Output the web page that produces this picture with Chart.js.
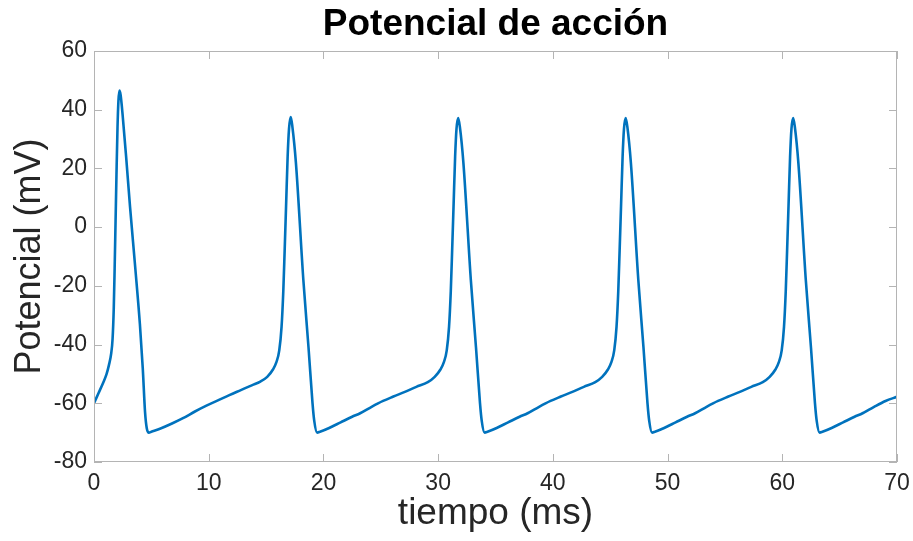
<!DOCTYPE html>
<html>
<head>
<meta charset="utf-8">
<script src="https://cdn.jsdelivr.net/npm/chart.js@4"></script>
<style>
  html, body { margin: 0; padding: 0; background: #fff; }
  #wrap { width: 913px; height: 541px; }
</style>
</head>
<body>
<div id="wrap"><canvas id="potChart"></canvas></div>
<script>
// datos (ms, mV)
const tiempo = [
  0, 0.4, 0.8, 1.1, 1.3, 1.5, 1.62, 1.72, 1.8, 1.88, 1.96, 2.05, 2.13, 2.22, 2.32, 2.5, 2.8, 3.14, 3.6, 4.0, 4.25, 4.45, 4.6, 4.78,
  5.0, 5.8, 6.8, 7.8, 8.8, 9.8, 10.8, 11.8, 12.8, 13.8,
  14.5, 15.1, 15.6, 15.9, 16.15, 16.35, 16.5, 16.62, 16.75, 16.88, 17.0, 17.15, 17.3, 17.6, 18.25, 18.7, 19.05, 19.2, 19.45,
  19.7, 20.5, 21.5, 22.5, 23.2, 24.2, 25.2, 26.1, 27.1, 28.1, 29.1,
  29.7, 30.2, 30.5, 30.75, 30.95, 31.1, 31.22, 31.35, 31.48, 31.6, 31.75, 31.9, 32.2, 32.85, 33.3, 33.65, 33.8, 34.05,
  34.3, 35.1, 36.1, 37.1, 37.8, 38.8, 39.8, 40.7, 41.7, 42.7, 43.7,
  44.3, 44.8, 45.1, 45.35, 45.55, 45.7, 45.82, 45.95, 46.08, 46.2, 46.35, 46.5, 46.8, 47.45, 47.9, 48.25, 48.4, 48.65,
  48.9, 49.7, 50.7, 51.7, 52.4, 53.4, 54.4, 55.3, 56.3, 57.3, 58.3,
  58.9, 59.4, 59.7, 59.95, 60.15, 60.3, 60.42, 60.55, 60.68, 60.8, 60.95, 61.1, 61.4, 62.05, 62.5, 62.85, 63.0, 63.25,
  63.5, 64.3, 65.3, 66.3, 67.0, 68.0, 69.0, 70
];
const potencial = [
  -60, -56.5, -53, -50, -47, -43, -38, -28, -14, 2, 18, 34, 43, 46.5, 45, 38, 24, 7, -14, -33, -48, -63, -68.5, -70,
  -69.7, -68.6, -66.9, -65, -62.8, -60.8, -59, -57.2, -55.5, -53.8,
  -52.6, -51, -48.5, -46, -42, -34, -22, -8, 8, 24, 33.5, 37.5, 34, 22, -18, -41, -60, -66, -70,
  -69.7, -68.4, -66.5, -64.6, -63.4, -61.2, -59.2, -57.7, -56.1, -54.4, -52.8,
  -51, -48.5, -46, -42, -34, -22, -8, 8, 24, 33.5, 37.2, 34, 22, -18, -41, -60, -66, -70,
  -69.7, -68.4, -66.5, -64.6, -63.4, -61.2, -59.2, -57.7, -56.1, -54.4, -52.8,
  -51, -48.5, -46, -42, -34, -22, -8, 8, 24, 33.5, 37.2, 34, 22, -18, -41, -60, -66, -70,
  -69.7, -68.4, -66.5, -64.6, -63.4, -61.2, -59.2, -57.7, -56.1, -54.4, -52.8,
  -51, -48.5, -46, -42, -34, -22, -8, 8, 24, 33.5, 37.2, 34, 22, -18, -41, -60, -66, -70,
  -69.7, -68.4, -66.5, -64.6, -63.4, -61.2, -59.2, -57.8
];
const ticksX = [0, 10, 20, 30, 40, 50, 60, 70];
const ticksY = [-80, -60, -40, -20, 0, 20, 40, 60];

const FONT = '"Liberation Sans", Arial, Helvetica, sans-serif';
const TEXT = '#262626';
const AXIS = '#b4b4b4';

// caja alrededor del área y marcas hacia dentro (estilo MATLAB)
const boxPlugin = {
    id: 'boxPlugin',
    afterDraw(chart) {
        const { ctx, chartArea: a, scales } = chart;
        ctx.save();
        ctx.strokeStyle = AXIS;
        ctx.lineWidth = 1;
        ctx.strokeRect(a.left + 0.5, a.top + 0.5, a.right - a.left - 1, a.bottom - a.top - 1);
        const len = 8;
        ctx.beginPath();
        ticksX.forEach(v => {
            const px = Math.round(scales.x.getPixelForValue(v)) + 0.5;
            ctx.moveTo(px, a.bottom); ctx.lineTo(px, a.bottom - len);
            ctx.moveTo(px, a.top); ctx.lineTo(px, a.top + len);
        });
        ticksY.forEach(v => {
            const py = Math.round(scales.y.getPixelForValue(v)) + 0.5;
            ctx.moveTo(a.left, py); ctx.lineTo(a.left + len, py);
            ctx.moveTo(a.right, py); ctx.lineTo(a.right - len, py);
        });
        ctx.stroke();
        ctx.restore();
    }
};

const ctx = document.getElementById('potChart').getContext('2d');
new Chart(ctx, {
    type: 'line',
    data: {
        datasets: [{
            label: 'Potencial',
            data: tiempo.map((t, i) => ({ x: t, y: potencial[i] })),
            borderColor: '#0072BD',
            borderWidth: 2.6,
            pointRadius: 0,
            fill: false,
            cubicInterpolationMode: 'monotone'
        }]
    },
    options: {
        responsive: true,
        maintainAspectRatio: false,
        animation: false,
        layout: { padding: { left: 0, right: 16, top: 0, bottom: 0 } },
        plugins: {
            legend: { display: false },
            tooltip: { enabled: false },
            title: {
                display: true,
                text: 'Potencial de acción',
                fullSize: false,
                color: '#000',
                font: { family: FONT, size: 37, weight: 'bold' },
                padding: { top: 3, bottom: 3.6 }
            }
        },
        scales: {
            x: {
                type: 'linear',
                min: 0,
                max: 70,
                afterBuildTicks: s => { s.ticks = ticksX.map(v => ({ value: v })); },
                afterFit: s => { s.height = 79; s.paddingLeft = 0; s.paddingRight = 0; },
                grid: { display: false, drawTicks: false },
                border: { display: false },
                ticks: { color: TEXT, font: { family: FONT, size: 23 }, padding: 8, maxRotation: 0 },
                title: {
                    display: true,
                    text: 'tiempo (ms)',
                    color: TEXT,
                    font: { family: FONT, size: 37 },
                    padding: { top: 0, bottom: 5 }
                }
            },
            y: {
                min: -80,
                max: 60,
                afterBuildTicks: s => { s.ticks = ticksY.map(v => ({ value: v })); },
                afterFit: s => { s.width = 94; s.paddingTop = 0; s.paddingBottom = 0; },
                grid: { display: false, drawTicks: false },
                border: { display: false },
                ticks: { color: TEXT, font: { family: FONT, size: 23 }, padding: 7 },
                title: {
                    display: true,
                    text: 'Potencial (mV)',
                    color: TEXT,
                    font: { family: FONT, size: 36 },
                    padding: { top: 8, bottom: 0 }
                }
            }
        }
    },
    plugins: [boxPlugin]
});
</script>
</body>
</html>
